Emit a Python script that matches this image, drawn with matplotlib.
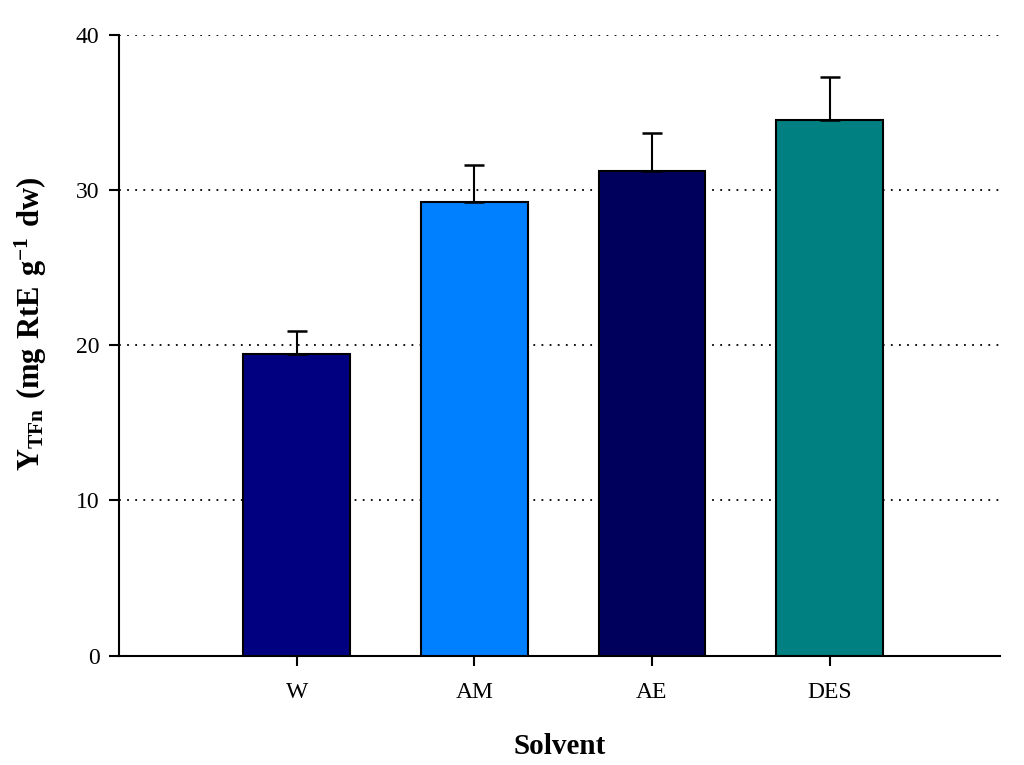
import numpy as np
import matplotlib
matplotlib.use("Agg")
import matplotlib.pyplot as plt

plt.rcParams['font.family'] = 'Liberation Serif'
plt.rcParams['mathtext.fontset'] = 'custom'
plt.rcParams['mathtext.rm'] = 'Liberation Serif'
plt.rcParams['mathtext.bf'] = 'Liberation Serif:bold'

# data
solvents = ['W', 'AM', 'AE', 'DES']
yields = [19.4, 29.2, 31.2, 34.5]
errors = [1.5, 2.4, 2.5, 2.8]
colors = ['#000080', '#0080FF', '#00005C', '#008080']

fig = plt.figure(figsize=(10.24, 7.65), dpi=100)
ax = fig.add_axes([0.1162, 0.1431, 0.8604, 0.8115])

x = np.arange(len(solvents))
ax.bar(x, yields, width=0.6, color=colors, edgecolor='black', linewidth=1.5, zorder=3)
ax.errorbar(x, yields, yerr=[np.zeros(len(errors)), errors], fmt='none',
            ecolor='black', elinewidth=1.5, capsize=7.5, capthick=1.8, zorder=4)

ax.set_xlim(-1.0, 3.96)
ax.set_ylim(0, 40)
ax.set_yticks([0, 10, 20, 30, 40])
ax.set_xticks(x)
ax.set_xticklabels(solvents)
ax.yaxis.grid(True, linestyle=(0, (1, 3.5)), color='black', linewidth=1.3, zorder=0)

for s in ['top', 'right']:
    ax.spines[s].set_visible(False)
for s in ['left', 'bottom']:
    ax.spines[s].set_linewidth(1.5)
ax.tick_params(axis='both', direction='out', length=7, width=1.5, labelsize=17, pad=7)
ax.tick_params(axis='x', pad=12)

ax.set_xlabel('Solvent', fontsize=21, fontweight='bold', labelpad=22)
ax.set_ylabel(r'$\mathbf{Y_{TFn}\ (mg\ RtE\ g^{-1}\ dw)}$', fontsize=22)
ax.yaxis.set_label_coords(-0.08, 0.534)

fig.savefig('out.png', dpi=100)
